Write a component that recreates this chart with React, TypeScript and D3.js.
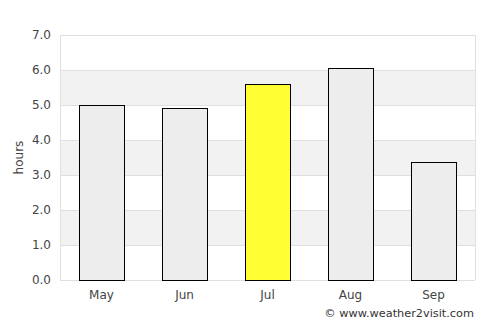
import React, { useRef, useEffect } from 'react';
import * as d3 from 'd3';

const months = ['May', 'Jun', 'Jul', 'Aug', 'Sep'];
const hours = [5.0, 4.9, 5.6, 6.05, 3.37];
const highlight = 'Jul';
const yTicks = [0, 1, 2, 3, 4, 5, 6, 7];

const App = () => {
  const ref = useRef<SVGSVGElement>(null);

  useEffect(() => {
    const width = 500;
    const height = 325;
    const margin = { top: 35, right: 25, bottom: 45, left: 60 };
    const font = 'DejaVu Sans, sans-serif';

    const svg = d3.select(ref.current);
    svg.selectAll('*').remove();

    const x = d3.scaleBand()
      .domain(months)
      .range([margin.left, width - margin.right])
      .paddingInner(0.458)
      .paddingOuter(0.229);

    const y = d3.scaleLinear()
      .domain([0, 7])
      .range([height - margin.bottom, margin.top]);

    //alternating bands
    svg.append('g')
      .selectAll('rect')
      .data(yTicks.slice(0, -1).filter(d => d % 2 === 1))
      .join('rect')
      .attr('x', margin.left)
      .attr('y', d => y(d + 1))
      .attr('width', width - margin.right - margin.left)
      .attr('height', d => y(d) - y(d + 1))
      .attr('fill', '#f2f2f2');

    //grid lines
    svg.append('g')
      .selectAll('line')
      .data(yTicks)
      .join('line')
      .attr('x1', margin.left)
      .attr('x2', width - margin.right)
      .attr('y1', d => Math.round(y(d)) + 0.5)
      .attr('y2', d => Math.round(y(d)) + 0.5)
      .attr('stroke', '#e0e0e0');

    //side borders
    [margin.left, width - margin.right].forEach(px => {
      svg.append('line')
        .attr('x1', px + 0.5)
        .attr('x2', px + 0.5)
        .attr('y1', margin.top)
        .attr('y2', height - margin.bottom)
        .attr('stroke', '#e0e0e0');
    });

    //y tick labels
    svg.append('g')
      .selectAll('text')
      .data(yTicks)
      .join('text')
      .attr('x', margin.left - 9)
      .attr('y', d => y(d))
      .attr('dy', '0.35em')
      .attr('text-anchor', 'end')
      .style('font-family', font)
      .style('font-size', '12px')
      .style('fill', '#444')
      .text(d => d.toFixed(1));

    //bars
    svg.append('g')
      .selectAll('rect')
      .data(months.map((m, i) => ({ m, v: hours[i] })))
      .join('rect')
      .attr('x', d => Math.round(x(d.m)!) + 0.5)
      .attr('y', d => Math.round(y(d.v)) + 0.5)
      .attr('width', Math.round(x.bandwidth()))
      .attr('height', d => Math.round(y(0)) - Math.round(y(d.v)))
      .attr('fill', d => (d.m === highlight ? '#ffff33' : '#ededed'))
      .attr('stroke', '#000')
      .attr('stroke-width', 1);

    //x labels
    svg.append('g')
      .selectAll('text')
      .data(months)
      .join('text')
      .attr('x', d => x(d)! + x.bandwidth() / 2)
      .attr('y', height - margin.bottom + 19)
      .attr('text-anchor', 'middle')
      .style('font-family', font)
      .style('font-size', '12px')
      .style('fill', '#444')
      .text(d => d);

    //y axis title
    svg.append('text')
      .attr('transform', `translate(23,${(margin.top + height - margin.bottom) / 2}) rotate(-90)`)
      .attr('text-anchor', 'middle')
      .style('font-family', font)
      .style('font-size', '12px')
      .style('fill', '#444')
      .text('hours');

    //credit
    svg.append('text')
      .attr('x', width - margin.right - 1)
      .attr('y', 317)
      .attr('text-anchor', 'end')
      .style('font-family', font)
      .style('font-size', '11.3px')
      .style('fill', '#333')
      .text('© www.weather2visit.com');
  }, []);

  return (
    <svg
      ref={ref}
      width={500}
      height={325}
      style={{ position: 'absolute', left: 0, top: 0, background: '#fff' }}
    />
  );
};

export default App;
